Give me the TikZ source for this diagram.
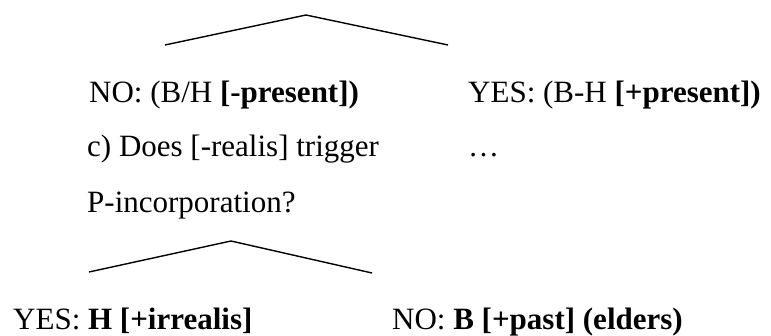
\documentclass[tikz,border=0pt]{standalone}
\usepackage{fontspec}
\setmainfont{Liberation Serif}
\begin{document}
\begin{tikzpicture}[x=1pt,y=-1pt,
  lbl/.style={anchor=base west,inner sep=0pt,font=\fontsize{31}{36}\selectfont},
  branch/.style={line width=1.4pt,line join=miter}]
\useasboundingbox (0,0) rectangle (771,336);
% top tree
\coordinate (t1) at (165,45);
\coordinate (ta) at (306,15);
\coordinate (t2) at (448,45);
\draw[branch] (t1) -- (ta) -- (t2);
% texts
\node[lbl] (no1) at (89,103) {NO: (B/H \textbf{[-present])}};
\node[lbl] (yes1) at (468,103) {YES: (B-H \textbf{[+present])}};
\node[lbl] (q1) at (87,157) {c) Does [-realis] trigger};
\node[lbl] (dots) at (468,157) {\ldots};
\node[lbl] (q2) at (87,213) {P-incorporation?};
% bottom tree
\coordinate (b1) at (89,272);
\coordinate (ba) at (231,241);
\coordinate (b2) at (372,273);
\draw[branch] (b1) -- (ba) -- (b2);
\node[lbl] (yes2) at (13,330) {YES: \textbf{H [+irrealis]}};
\node[lbl] (no2) at (392,330) {NO: \textbf{B [+past] (elders)}};
\end{tikzpicture}
\end{document}
